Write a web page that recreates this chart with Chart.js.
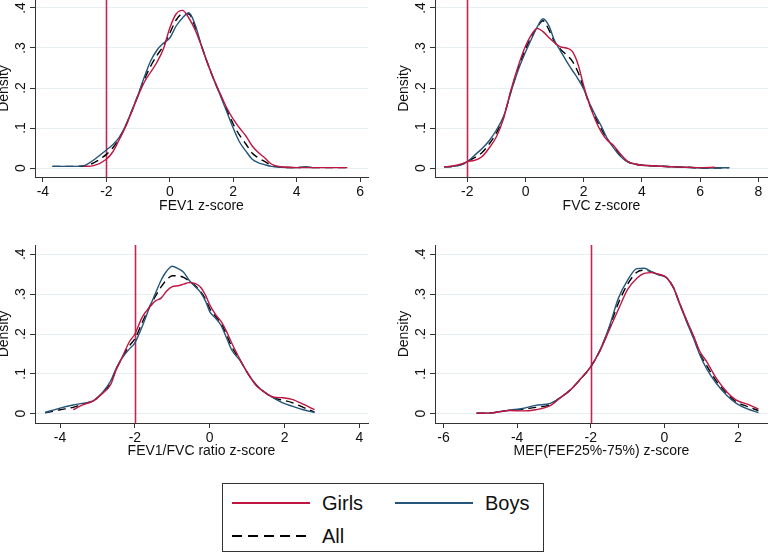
<!DOCTYPE html>
<html><head><meta charset="utf-8">
<script src="https://cdn.jsdelivr.net/npm/chart.js@4.4.1/dist/chart.umd.min.js"></script>
<style>
html,body{margin:0;padding:0;background:#fff;width:768px;height:553px;overflow:hidden;position:relative;font-family:"Liberation Sans",Arial,sans-serif;}
canvas{position:absolute;}
#legend{position:absolute;left:222px;top:483px;width:322px;height:69px;border:1px solid #333;box-sizing:border-box;background:#fff;}
.item{position:absolute;display:flex;align-items:center;font-size:20px;color:#111;height:24px;}
.sw{width:78px;height:2px;margin-right:12px;}
</style></head>
<body>
<canvas id="p1" width="400" height="225" style="left:-16px;top:0px"></canvas>
<canvas id="p2" width="400" height="225" style="left:384px;top:0px"></canvas>
<canvas id="p3" width="400" height="225" style="left:-16px;top:245px"></canvas>
<canvas id="p4" width="400" height="225" style="left:384px;top:245px"></canvas>
<div id="legend">
  <div class="item" style="left:9px;top:7px"><div class="sw" style="background:#bf1540"></div>Girls</div>
  <div class="item" style="left:172px;top:7px"><div class="sw" style="background:#24557a"></div>Boys</div>
  <div class="item" style="left:9px;top:40px"><div class="sw" style="background:repeating-linear-gradient(to right,#000 0 10px,transparent 10px 16px)"></div>All</div>
</div>
<script>
// ---------- data ----------
const SERIES_NAMES = ['Girls', 'Boys', 'All'];
const Y_TICKS = [0, 0.1, 0.2, 0.3, 0.4];
const Y_TICK_LABELS = ['0', '.1', '.2', '.3', '.4'];
const REF_X = -2;

const FEV1_TITLE = 'FEV1 z-score';
const FEV1_TICKS = [-4, -2, 0, 2, 4, 6];
const FEV1_X = [-3.7,-3.4,-3.0,-2.7,-2.4,-2.0,-1.8,-1.6,-1.4,-1.2,-1.0,-0.8,-0.6,-0.4,-0.2,0,0.2,0.4,0.6,0.8,1.0,1.2,1.4,1.6,1.8,2.0,2.2,2.4,2.6,2.8,3.0,3.2,3.5,4.0,4.3,4.5,5.0,5.6];
const FEV1_GIRLS = [null,null,null,0.004,0.006,0.022,0.04,0.07,0.102,0.14,0.18,0.215,0.24,0.265,0.298,0.35,0.385,0.394,0.375,0.345,0.305,0.26,0.22,0.184,0.15,0.122,0.1,0.08,0.055,0.038,0.025,0.01,0.003,0.001,0.001,0.001,0.001,0.001];
const FEV1_BOYS = [0.004,0.004,0.004,0.006,0.02,0.045,0.058,0.076,0.105,0.143,0.183,0.228,0.268,0.295,0.312,0.325,0.355,0.375,0.388,0.358,0.305,0.26,0.218,0.18,0.14,0.1,0.065,0.042,0.022,0.013,0.008,0.004,0.002,0.001,0.003,0.001,null,null];
const FEV1_ALL = [0.004,0.004,0.004,0.005,0.013,0.034,0.05,0.073,0.104,0.142,0.182,0.222,0.255,0.282,0.305,0.337,0.37,0.385,0.385,0.352,0.305,0.26,0.219,0.182,0.145,0.11,0.082,0.06,0.037,0.025,0.016,0.007,0.002,0.001,0.002,0.001,0.001,0.001];

const FVC_TITLE = 'FVC z-score';
const FVC_TICKS = [-2, 0, 2, 4, 6, 8];
const FVC_X = [-2.8,-2.5,-2.2,-2.0,-1.75,-1.5,-1.25,-1.0,-0.75,-0.5,-0.25,0,0.2,0.4,0.6,0.8,1.0,1.2,1.4,1.6,1.8,2.0,2.2,2.4,2.6,2.8,3.0,3.25,3.5,3.75,4.0,4.5,5.0,5.5,6.0,6.5,7.0];
const FVC_GIRLS = [0.003,0.005,0.01,0.016,0.019,0.028,0.05,0.078,0.125,0.195,0.255,0.305,0.333,0.349,0.341,0.326,0.313,0.303,0.3,0.292,0.26,0.205,0.158,0.12,0.09,0.07,0.058,0.036,0.017,0.01,0.007,0.005,0.003,0.002,0.001,0.002,null];
const FVC_BOYS = [0.003,0.004,0.008,0.016,0.032,0.048,0.068,0.095,0.13,0.19,0.245,0.29,0.322,0.352,0.373,0.356,0.318,0.293,0.268,0.245,0.223,0.197,0.162,0.132,0.105,0.075,0.053,0.03,0.016,0.01,0.007,0.005,0.003,0.002,0.0,0.0,0.001];
const FVC_ALL = [0.003,0.004,0.009,0.016,0.026,0.038,0.06,0.088,0.128,0.192,0.25,0.297,0.328,0.352,0.368,0.346,0.315,0.297,0.283,0.268,0.24,0.2,0.158,0.126,0.098,0.073,0.055,0.033,0.016,0.01,0.007,0.005,0.003,0.002,0.0,0.0,0.001];

const RATIO_TITLE = 'FEV1/FVC ratio z-score';
const RATIO_TICKS = [-4, -2, 0, 2, 4];
const RATIO_X = [-4.4,-4.0,-3.65,-3.4,-3.1,-2.85,-2.65,-2.5,-2.3,-2.15,-2.0,-1.8,-1.6,-1.45,-1.3,-1.15,-1.0,-0.85,-0.7,-0.55,-0.4,-0.25,-0.1,0,0.15,0.3,0.45,0.6,0.8,1.0,1.25,1.45,1.7,1.95,2.2,2.5,2.8];
const RATIO_GIRLS = [null,null,0.01,0.022,0.033,0.052,0.073,0.11,0.15,0.18,0.2,0.243,0.268,0.283,0.29,0.308,0.319,0.321,0.325,0.329,0.327,0.318,0.295,0.273,0.25,0.232,0.206,0.175,0.138,0.104,0.07,0.055,0.042,0.04,0.036,0.024,0.01];
const RATIO_BOYS = [0.003,0.014,0.022,0.026,0.033,0.055,0.082,0.114,0.145,0.162,0.178,0.22,0.269,0.302,0.335,0.358,0.37,0.364,0.355,0.335,0.32,0.305,0.28,0.256,0.24,0.222,0.19,0.158,0.135,0.104,0.072,0.055,0.04,0.027,0.019,0.01,0.003];
const RATIO_ALL = [0.002,0.01,0.016,0.024,0.033,0.054,0.078,0.112,0.147,0.17,0.188,0.23,0.27,0.295,0.318,0.336,0.346,0.346,0.342,0.333,0.322,0.307,0.285,0.264,0.245,0.227,0.198,0.166,0.136,0.104,0.071,0.055,0.04,0.034,0.028,0.016,0.004];

const MEF_TITLE = 'MEF(FEF25%-75%) z-score';
const MEF_TICKS = [-6, -4, -2, 0, 2];
const MEF_X = [-5.1,-4.7,-4.2,-3.85,-3.5,-3.1,-2.85,-2.55,-2.3,-2.0,-1.75,-1.5,-1.25,-1.0,-0.75,-0.55,-0.35,-0.15,0.05,0.25,0.4,0.6,0.8,0.95,1.15,1.4,1.7,1.95,2.25,2.55];
const MEF_GIRLS = [0.001,0.002,0.008,0.007,0.01,0.02,0.038,0.06,0.085,0.118,0.158,0.21,0.262,0.312,0.34,0.352,0.354,0.35,0.342,0.315,0.28,0.235,0.193,0.158,0.13,0.09,0.054,0.034,0.024,0.012];
const MEF_BOYS = [0.001,0.002,0.009,0.013,0.021,0.026,0.039,0.06,0.085,0.118,0.16,0.218,0.29,0.335,0.364,0.365,0.356,0.348,0.342,0.315,0.278,0.231,0.186,0.15,0.112,0.077,0.045,0.026,0.012,0.003];
const MEF_ALL = [0.001,0.002,0.009,0.011,0.016,0.023,0.039,0.06,0.085,0.118,0.159,0.215,0.278,0.325,0.355,0.36,0.356,0.349,0.342,0.315,0.279,0.233,0.19,0.153,0.12,0.083,0.05,0.03,0.018,0.008];

// ---------- drawing ----------
const FONT = '"Liberation Sans", Arial, sans-serif';
const COLORS = ['#bf1540', '#24557a', '#000000'];
const DASHES = [[], [], [8, 5]];
const REF_COLOR = '#c42550';
const GRID_COLOR = '#e6eef1';
const AXIS_COLOR = '#333333';

function pts(xs, ys) {
  const out = [];
  xs.forEach((x, i) => { if (ys[i] !== null) out.push({x: x, y: ys[i]}); });
  return out;
}

const stataPlugin = {
  id: 'stata',
  beforeDatasetsDraw(chart) {
    const xs = chart.scales.x, a = chart.chartArea, ctx = chart.ctx;
    const px = Math.round(xs.getPixelForValue(REF_X)) + 0.5;
    ctx.save();
    ctx.strokeStyle = REF_COLOR; ctx.lineWidth = 1.6;
    ctx.beginPath(); ctx.moveTo(px, a.top); ctx.lineTo(px, a.bottom); ctx.stroke();
    ctx.restore();
  },
  afterDraw(chart) {
    const ys = chart.scales.y, ctx = chart.ctx;
    ctx.save();
    ctx.font = '14px ' + FONT; ctx.fillStyle = '#111';
    ctx.textAlign = 'center'; ctx.textBaseline = 'middle';
    Y_TICKS.forEach((v, i) => {
      ctx.save();
      ctx.translate(ys.right - 14, ys.getPixelForValue(v));
      ctx.rotate(-Math.PI / 2);
      ctx.fillText(Y_TICK_LABELS[i], 0, 0);
      ctx.restore();
    });
    ctx.restore();
  }
};

function makePanel(id, title, ticks, xs, girls, boys, all, xmin, xmax, ymin, ymax, axisH) {
  const series = [girls, boys, all];
  new Chart(document.getElementById(id), {
    type: 'line',
    data: {
      datasets: series.map((s, i) => ({
        label: SERIES_NAMES[i],
        data: pts(xs, s),
        borderColor: COLORS[i],
        borderWidth: 1.4,
        borderDash: DASHES[i],
        pointRadius: 0,
        fill: false,
        cubicInterpolationMode: 'monotone'
      }))
    },
    options: {
      responsive: false, animation: false, devicePixelRatio: 1,
      layout: {padding: {left: 0, right: 16, top: 0, bottom: 0}},
      plugins: {legend: {display: false}, tooltip: {enabled: false}},
      scales: {
        x: {
          type: 'linear', min: xmin, max: xmax,
          afterBuildTicks: (s) => { s.ticks = ticks.map(v => ({value: v})); },
          afterFit: (s) => { s.height = axisH; },
          ticks: {color: '#111', font: {family: FONT, size: 14}, padding: 2, maxRotation: 0, callback: (v) => String(v)},
          grid: {drawOnChartArea: false, drawTicks: true, tickLength: 5, tickColor: AXIS_COLOR},
          border: {display: true, color: AXIS_COLOR, width: 1},
          title: {display: true, text: title, color: '#111', font: {family: FONT, size: 14}, padding: {top: 0, bottom: 10}}
        },
        y: {
          type: 'linear', min: ymin, max: ymax,
          afterBuildTicks: (s) => { s.ticks = Y_TICKS.map(v => ({value: v})); },
          afterFit: (s) => { s.width = 51; },
          ticks: {display: false},
          grid: {color: GRID_COLOR, lineWidth: 1, drawTicks: true, tickLength: 5, tickColor: AXIS_COLOR},
          border: {display: true, color: AXIS_COLOR, width: 1},
          title: {display: true, text: 'Density', color: '#111', font: {family: FONT, size: 14}, padding: {top: 12, bottom: 0}}
        }
      }
    },
    plugins: [stataPlugin]
  });
}

makePanel('p1', FEV1_TITLE, FEV1_TICKS, FEV1_X, FEV1_GIRLS, FEV1_BOYS, FEV1_ALL, -4.25, 6.25, -0.0225, 0.42, 48);
makePanel('p2', FVC_TITLE, FVC_TICKS, FVC_X, FVC_GIRLS, FVC_BOYS, FVC_ALL, -3.11, 8.33, -0.0225, 0.42, 48);
makePanel('p3', RATIO_TITLE, RATIO_TICKS, RATIO_X, RATIO_GIRLS, RATIO_BOYS, RATIO_ALL, -4.67, 4.23, -0.0233, 0.4233, 47);
makePanel('p4', MEF_TITLE, MEF_TICKS, MEF_X, MEF_GIRLS, MEF_BOYS, MEF_ALL, -6.23, 2.81, -0.0233, 0.4233, 47);
</script>
</body></html>
